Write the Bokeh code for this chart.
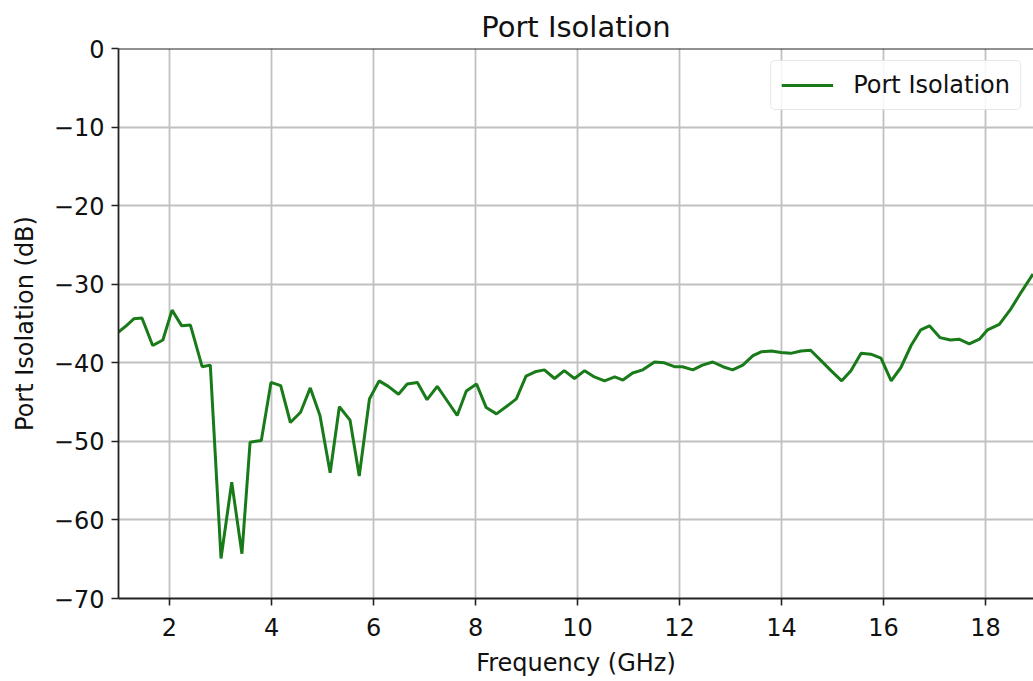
from bokeh.plotting import figure
from bokeh.models import Range1d, Span, Legend, LegendItem, FixedTicker
from bokeh.embed import file_html
from bokeh.resources import INLINE

freq_ghz = [1.0, 1.15, 1.30, 1.46, 1.67, 1.87, 2.05, 2.24, 2.41, 2.64, 2.80,
            3.01, 3.22, 3.42, 3.58, 3.80, 3.99, 4.18, 4.37, 4.57, 4.76, 4.95,
            5.15, 5.33, 5.54, 5.72, 5.92, 6.11, 6.29, 6.49, 6.66, 6.86, 7.05,
            7.25, 7.44, 7.64, 7.82, 8.02, 8.21, 8.41, 8.60, 8.80, 8.99, 9.19,
            9.35, 9.55, 9.74, 9.94, 10.14, 10.33, 10.53, 10.73, 10.89, 11.08,
            11.28, 11.51, 11.70, 11.90, 12.06, 12.26, 12.45, 12.65, 12.85,
            13.04, 13.24, 13.44, 13.60, 13.80, 13.99, 14.18, 14.38, 14.57,
            14.77, 14.97, 15.18, 15.36, 15.56, 15.75, 15.95, 16.15, 16.34,
            16.54, 16.73, 16.90, 17.11, 17.31, 17.48, 17.68, 17.88, 18.04,
            18.27, 18.50, 18.70, 18.93]
isolation_db = [-36.1, -35.3, -34.4, -34.3, -37.8, -37.1, -33.3, -35.3, -35.2, -40.5, -40.3,
                -64.9, -55.2, -64.3, -50.1, -49.9, -42.5, -42.9, -47.6, -46.3, -43.2, -46.7,
                -54.0, -45.6, -47.3, -54.4, -44.6, -42.3, -43.0, -44.0, -42.7, -42.5, -44.7,
                -43.0, -44.8, -46.7, -43.6, -42.7, -45.7, -46.5, -45.6, -44.6, -41.7, -41.1,
                -40.9, -42.0, -41.0, -42.0, -41.0, -41.8, -42.3, -41.8, -42.2, -41.3,
                -40.9, -39.9, -40.0, -40.5, -40.5, -40.9, -40.3, -39.9, -40.5,
                -40.9, -40.3, -39.1, -38.6, -38.5, -38.7, -38.8, -38.5, -38.4,
                -39.7, -41.0, -42.3, -41.0, -38.8, -38.9, -39.4, -42.3, -40.6,
                -37.8, -35.8, -35.3, -36.8, -37.1, -37.0, -37.6, -37.0, -35.8,
                -35.1, -33.1, -31.0, -28.7]

x_ticks = [2, 4, 6, 8, 10, 12, 14, 16, 18]
y_ticks = [-70, -60, -50, -40, -30, -20, -10, 0]

FONT = "DejaVu Sans"

p = figure(output_backend="svg", toolbar_location=None,
           frame_width=915, frame_height=550,
           x_range=Range1d(1, 18.94), y_range=Range1d(-70, 0),
           min_border_left=118, min_border_right=0,
           min_border_top=48, min_border_bottom=60,
           title="Port Isolation")

p.title.text_font = FONT
p.title.text_font_size = "29px"
p.title.text_font_style = "normal"
p.title.align = "center"
p.title.text_color = "#111111"
p.title.offset = 0
p.title.standoff = 10

p.outline_line_color = None
p.background_fill_color = "white"
p.border_fill_color = "white"

for ax in (p.xaxis[0], p.yaxis[0]):
    ax.axis_line_color = "#222222"
    ax.axis_line_width = 1.8
    ax.major_tick_line_color = "#222222"
    ax.major_tick_line_width = 1.6
    ax.major_tick_out = 7
    ax.major_tick_in = 0
    ax.minor_tick_line_color = None
    ax.major_label_text_font = FONT
    ax.major_label_text_font_size = "24px"
    ax.major_label_text_color = "#111111"
    ax.axis_label_text_font = FONT
    ax.axis_label_text_font_size = "24px"
    ax.axis_label_text_font_style = "normal"
    ax.axis_label_text_color = "#111111"

p.xaxis.ticker = FixedTicker(ticks=x_ticks)
p.yaxis.ticker = FixedTicker(ticks=y_ticks)
p.xaxis.axis_label = "Frequency (GHz)"
p.yaxis.axis_label = "Port Isolation (dB)"
p.xaxis.major_label_standoff = 12
p.yaxis.major_label_standoff = 7
p.xaxis.axis_label_standoff = 10
p.yaxis.axis_label_standoff = 12

p.xgrid.ticker = FixedTicker(ticks=x_ticks)
p.ygrid.ticker = FixedTicker(ticks=y_ticks)
for g in (p.xgrid[0], p.ygrid[0]):
    g.grid_line_color = "#c0c0c0"
    g.grid_line_width = 1.8

# top border of the axes box
p.add_layout(Span(location=0, dimension="width", line_color="#222222", line_width=1.8))

r = p.line(freq_ghz, isolation_db, line_color="#197a19", line_width=3)

legend = Legend(items=[LegendItem(label="Port Isolation", renderers=[r])],
                location="top_right", margin=12, padding=10, spacing=0,
                glyph_width=52, glyph_height=26, label_height=26,
                label_standoff=20,
                label_text_font=FONT, label_text_font_size="24px",
                label_text_color="#111111",
                border_line_color="#d0d0d0", border_line_width=1.5,
                border_radius=5,
                background_fill_color="white", background_fill_alpha=0.85)
p.add_layout(legend)

open("out.html", "w").write(file_html(p, INLINE))
